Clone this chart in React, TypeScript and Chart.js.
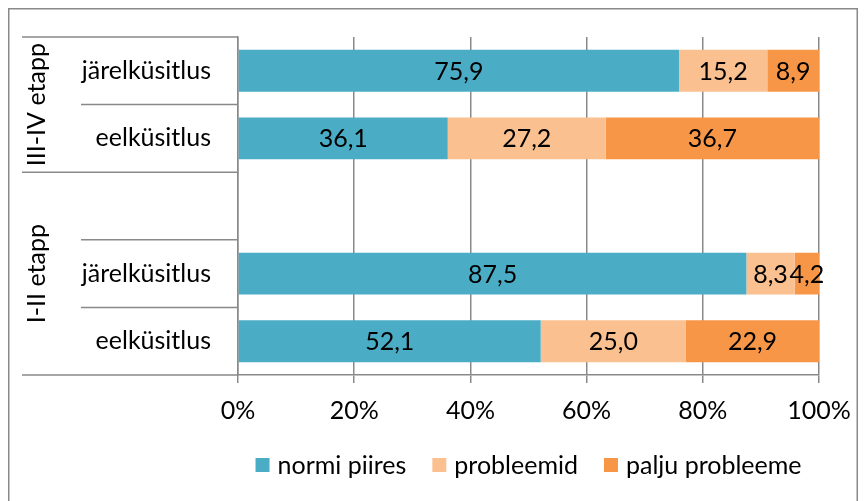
import React, { useEffect, useRef } from "react";
import { Chart, registerables } from "chart.js";

Chart.register(...registerables);

// ---- data ----
const categories = ["järelküsitlus", "eelküsitlus", "", "järelküsitlus", "eelküsitlus"];
const groupLabels = ["III-IV etapp", "I-II etapp"];
const groupStart = [0, 2];
const groupEnd = [1, 4];
const seriesNames = ["normi piires", "probleemid", "palju probleeme"];
const normiPiires = [75.9, 36.1, null, 87.5, 52.1];
const probleemid = [15.2, 27.2, null, 8.3, 25.0];
const paljuProbleeme = [8.9, 36.7, null, 4.2, 22.9];
const xTickValues = [0, 20, 40, 60, 80, 100];

const COLORS = ["#4BACC6", "#FAC090", "#F79646"];
const FONT = "Lato";
const FS = 25;
const GRID = "#898989";

const overlay = {
  id: "overlay",
  afterDatasetsDraw(chart: any) {
    const ctx = chart.ctx;
    ctx.save();
    ctx.font = `${FS}px ${FONT}`;
    ctx.fillStyle = "#000";
    ctx.textAlign = "center";
    ctx.textBaseline = "middle";
    chart.data.datasets.forEach((ds: any, di: number) => {
      const meta = chart.getDatasetMeta(di);
      meta.data.forEach((bar: any, i: number) => {
        const v = ds.data[i];
        if (v == null) return;
        const p = bar.getProps(["x", "base", "y"], true);
        ctx.fillText(v.toFixed(1).replace(".", ","), (p.x + p.base) / 2, p.y + 1);
      });
    });
    ctx.restore();
  },
  afterDraw(chart: any) {
    const ctx = chart.ctx;
    const ys = chart.scales.y;
    const area = chart.chartArea;
    const n = categories.length;
    const boundary = (i: number) => {
      if (i < 0) return area.top;
      if (i >= n - 1) return area.bottom;
      return (ys.getPixelForValue(i) + ys.getPixelForValue(i + 1)) / 2;
    };
    ctx.save();
    ctx.strokeStyle = GRID;
    ctx.lineWidth = 1.5;
    // separators
    const longX = 14;
    const shortX = 73;
    const drawH = (y: number, x0: number) => {
      ctx.beginPath();
      ctx.moveTo(x0, y);
      ctx.lineTo(area.left, y);
      ctx.stroke();
    };
    drawH(area.top, longX);
    for (let i = 0; i < n - 1; i++) {
      const isGroupEnd = groupEnd.indexOf(i) >= 0;
      drawH(boundary(i), isGroupEnd ? longX : shortX);
    }
    drawH(area.bottom, longX);
    // group labels
    ctx.fillStyle = "#000";
    ctx.font = `${FS}px ${FONT}`;
    ctx.textAlign = "center";
    ctx.textBaseline = "middle";
    groupLabels.forEach((g, gi) => {
      const y0 = boundary(groupStart[gi] - 1);
      const y1 = boundary(groupEnd[gi]);
      ctx.save();
      ctx.translate(29, (y0 + y1) / 2);
      ctx.rotate(-Math.PI / 2);
      ctx.fillText(g, 0, 0);
      ctx.restore();
    });
    // legend
    const sq = 14;
    const gap = 8;
    const itemGap = 26;
    ctx.textAlign = "left";
    const widths = seriesNames.map((s) => ctx.measureText(s).width);
    const total = widths.reduce((a, w) => a + sq + gap + w, 0) + itemGap * (seriesNames.length - 1);
    let x = (area.left + area.right) / 2 - total / 2;
    const ly = 457;
    chart.data.datasets.forEach((ds: any, i: number) => {
      ctx.fillStyle = ds.backgroundColor;
      ctx.fillRect(x, ly - sq / 2, sq, sq);
      ctx.fillStyle = "#000";
      ctx.fillText(ds.label, x + sq + gap, ly + 1);
      x += sq + gap + widths[i] + itemGap;
    });
    // outer border (top, left, right)
    ctx.strokeStyle = GRID;
    ctx.lineWidth = 1.5;
    ctx.beginPath();
    ctx.moveTo(0.75, chart.height);
    ctx.lineTo(0.75, 0.75);
    ctx.lineTo(chart.width - 0.75, 0.75);
    ctx.lineTo(chart.width - 0.75, chart.height);
    ctx.stroke();
    ctx.restore();
  },
};

export default function App() {
  const ref = useRef<HTMLCanvasElement>(null);
  useEffect(() => {
    if (!ref.current) return;
    const chart = new Chart(ref.current, {
      type: "bar",
      data: {
        labels: categories,
        datasets: [normiPiires, probleemid, paljuProbleeme].map((d, i) => ({
          label: seriesNames[i],
          data: d,
          backgroundColor: COLORS[i],
          borderWidth: 0,
          barPercentage: 0.62,
          categoryPercentage: 1,
        })),
      },
      options: {
        indexAxis: "y",
        animation: false,
        responsive: false,
        maintainAspectRatio: false,
        layout: { padding: { top: 29, right: 39, left: 0, bottom: 0 } },
        plugins: { legend: { display: false }, tooltip: { enabled: false } },
        scales: {
          x: {
            stacked: true,
            min: 0,
            max: 100,
            afterBuildTicks: (s: any) => {
              s.ticks = xTickValues.map((v) => ({ value: v }));
            },
            afterFit: (s: any) => {
              s.height = 126;
              s.paddingLeft = 0;
              s.paddingRight = 0;
            },
            ticks: {
              callback: (v: any) => v + "%",
              color: "#000",
              font: { family: FONT, size: FS },
              padding: 13,
              maxRotation: 0,
            },
            grid: { color: GRID, lineWidth: 1.5, tickLength: 8, drawTicks: true },
            border: { display: true, color: GRID, width: 1.5 },
          },
          y: {
            stacked: true,
            afterFit: (s: any) => {
              s.width = 230;
              s.paddingTop = 0;
              s.paddingBottom = 0;
            },
            ticks: {
              color: "#000",
              font: { family: FONT, size: FS },
              padding: 27,
            },
            grid: { display: false, drawTicks: false },
            border: { display: true, color: GRID, width: 1.5 },
          },
        },
      },
      plugins: [overlay],
    });
    return () => chart.destroy();
  }, []);
  return (
    <div style={{ width: 850, height: 493 }}>
      <canvas ref={ref} width={850} height={493} style={{ display: "block" }} />
    </div>
  );
}
